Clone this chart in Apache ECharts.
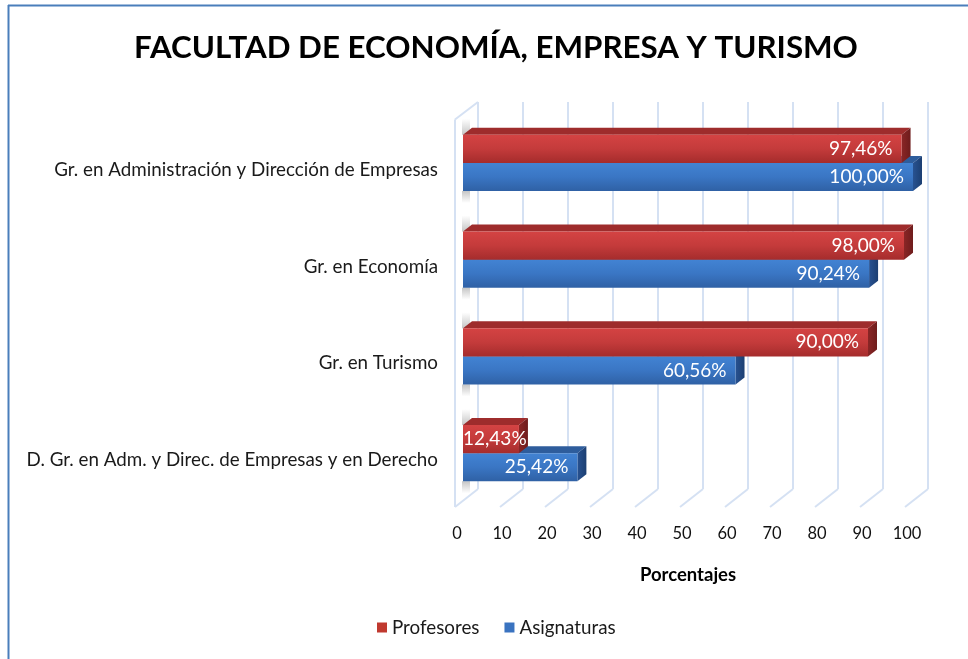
<!DOCTYPE html>
<html>
<head>
<meta charset="utf-8">
<script src="https://cdn.jsdelivr.net/npm/echarts@6/dist/echarts.min.js"></script>
<style>
html,body{margin:0;padding:0;background:#fff;}
#chart{width:968px;height:659px;}
</style>
</head>
<body>
<div id="chart"></div>
<script>
const categories = [
  'Gr. en Administración y Dirección de Empresas',
  'Gr. en Economía',
  'Gr. en Turismo',
  'D. Gr. en Adm. y Direc. de Empresas y en Derecho'
];
const profesores = [97.46, 98.00, 90.00, 12.43];
const asignaturas = [100.00, 90.24, 60.56, 25.42];
const xTicks = [0, 10, 20, 30, 40, 50, 60, 70, 80, 90, 100];
const seriesNames = ['Profesores', 'Asignaturas'];
const axisTitle = 'Porcentajes';
const chartTitle = 'FACULTAD DE ECONOMÍA, EMPRESA Y TURISMO';

const FONT = 'Lato, "Liberation Sans", sans-serif';
const LABEL_FONT = '19px ' + FONT;
const measureCtx = document.createElement('canvas').getContext('2d');
function textWidth(t) { measureCtx.font = LABEL_FONT; return measureCtx.measureText(t).width; }
function fmt(v) { return v.toFixed(2).replace('.', ',') + '%'; }

const DX = 9, DY = -7;
const palette = {
  red: { front: ['#D44343', '#C43B3B', '#A52C2C'], top: '#9E2C2C', side: ['#8A2626', '#6E1C1C'], legend: '#C0392F' },
  blue: { front: ['#4283D3', '#3A76C4', '#2F61A5'], top: '#2E5D9C', side: ['#285291', '#1C3F72'], legend: '#3A73C0' }
};

function barRenderer(upper, pal) {
  return function (params, api) {
    const v = api.value(0), c = api.value(1);
    const s = api.coord([0, c]);
    const e = api.coord([v, c]);
    const band = api.size([0, 1])[1];
    const h = band * 0.29;
    const y0 = upper ? s[1] - h : s[1];
    const y1 = y0 + h;
    const x0 = s[0], x1 = e[0];
    const txt = fmt(v);
    const tw = textWidth(txt);
    let tx, align;
    if (x1 - x0 - 9 >= tw) { tx = x1 - 9; align = 'right'; } else { tx = x0; align = 'left'; }
    const shadow = upper
      ? { type: 'rect', shape: { x: x0 - 1, y: y0 - 16, width: 8, height: 16 },
          style: { fill: new echarts.graphic.LinearGradient(0, 0, 0, 1, [{ offset: 0, color: 'rgba(150,150,150,0)' }, { offset: 1, color: 'rgba(150,150,150,0.55)' }]) } }
      : { type: 'rect', shape: { x: x0 - 1, y: y1, width: 8, height: 12 },
          style: { fill: new echarts.graphic.LinearGradient(0, 0, 0, 1, [{ offset: 0, color: 'rgba(150,150,150,0.55)' }, { offset: 1, color: 'rgba(150,150,150,0)' }]) } };
    return {
      type: 'group',
      children: [
        shadow,
        { type: 'polygon', shape: { points: [[x0, y0], [x0 + DX, y0 + DY], [x1 + DX, y0 + DY], [x1, y0]] },
          style: { fill: pal.top } },
        { type: 'polygon', shape: { points: [[x1, y0], [x1 + DX, y0 + DY], [x1 + DX, y1 + DY], [x1, y1]] },
          style: { fill: new echarts.graphic.LinearGradient(0, 0, 1, 0, [{ offset: 0, color: pal.side[0] }, { offset: 1, color: pal.side[1] }]) } },
        { type: 'rect', shape: { x: x0, y: y0, width: x1 - x0, height: h },
          style: { fill: new echarts.graphic.LinearGradient(0, 0, 0, 1, [
            { offset: 0, color: pal.front[0] }, { offset: 0.5, color: pal.front[1] }, { offset: 1, color: pal.front[2] }]) } },
        { type: 'text', z2: 10, style: { text: txt, x: tx, y: (y0 + y1) / 2, fill: '#ffffff', font: LABEL_FONT,
          align: align, textAlign: align, verticalAlign: 'middle', textVerticalAlign: 'middle' } }
      ]
    };
  };
}

function floorRenderer(params, api) {
  const v = api.value(0);
  const x = api.coord([v, 0])[0];
  const cs = params.coordSys;
  const bottom = cs.y + cs.height;
  const lineStyle = { stroke: '#D5E1F3', lineWidth: 2, fill: null };
  const children = [
    { type: 'line', shape: { x1: x - 8, y1: bottom + 5.5, x2: x + 15, y2: bottom - 12.5 }, style: lineStyle }
  ];
  if (v === xTicks[0]) {
    children.push({ type: 'line', shape: { x1: x - 8, y1: bottom + 5.5, x2: x - 8, y2: cs.y + 5 }, style: lineStyle });
    children.push({ type: 'line', shape: { x1: x - 8, y1: cs.y + 5, x2: x + 15, y2: cs.y - 12.5 }, style: lineStyle });
  }
  return { type: 'group', children: children };
}

const chart = echarts.init(document.getElementById('chart'), null, { renderer: 'canvas' });
chart.setOption({
  backgroundColor: '#ffffff',
  animation: false,
  title: {
    text: chartTitle, left: 491, top: 27, textAlign: 'center',
    textStyle: { fontFamily: FONT, fontSize: 31.3, fontWeight: 'bold', color: '#000' }
  },
  graphic: [
    { type: 'line', shape: { x1: 8, y1: 5.5, x2: 968, y2: 5.5 }, style: { stroke: '#4A7EBB', lineWidth: 2 } },
    { type: 'line', shape: { x1: 8.5, y1: 5, x2: 8.5, y2: 659 }, style: { stroke: '#4A7EBB', lineWidth: 2 } }
  ],
  legend: {
    data: seriesNames, top: 613, left: 372, icon: 'rect', itemWidth: 10, itemHeight: 10, itemGap: 25,
    textStyle: { fontFamily: FONT, fontSize: 18.8, color: '#1a1a1a' }
  },
  grid: [
    { left: 463, width: 450, top: 114.5, height: 387 },
    { left: 478, width: 450, top: 102, height: 387 }
  ],
  xAxis: [
    { gridIndex: 0, type: 'value', min: 0, max: 100, interval: 10,
      name: axisTitle, nameLocation: 'middle', nameGap: 64,
      nameTextStyle: { fontFamily: FONT, fontSize: 18.5, fontWeight: 'bold', color: '#000' },
      axisLine: { show: false }, axisTick: { show: false }, splitLine: { show: false },
      axisLabel: { fontFamily: FONT, fontSize: 16.5, color: '#111', margin: 24, padding: [0, 12, 0, 0] } },
    { gridIndex: 1, type: 'value', min: 0, max: 100, interval: 10,
      axisLine: { show: false }, axisTick: { show: false }, axisLabel: { show: false },
      splitLine: { show: true, lineStyle: { color: '#D5E1F3', width: 2 } } }
  ],
  yAxis: [
    { gridIndex: 0, type: 'category', data: categories, inverse: true,
      axisLine: { show: false }, axisTick: { show: false },
      axisLabel: { fontFamily: FONT, fontSize: 18.8, color: '#1a1a1a', margin: 25,
        verticalAlign: 'top', lineHeight: 14 } },
    { gridIndex: 1, type: 'value', show: false }
  ],
  series: [
    { type: 'custom', name: 'floor', xAxisIndex: 0, yAxisIndex: 0, z: 1, clip: false, silent: true,
      data: xTicks.map(v => [v, 0]), encode: { x: 0, y: 1 }, renderItem: floorRenderer },
    { type: 'custom', name: seriesNames[1], xAxisIndex: 0, yAxisIndex: 0, z: 3, clip: false,
      itemStyle: { color: palette.blue.legend },
      data: asignaturas.map((v, i) => [v, i]), encode: { x: 0, y: 1 }, renderItem: barRenderer(false, palette.blue) },
    { type: 'custom', name: seriesNames[0], xAxisIndex: 0, yAxisIndex: 0, z: 4, clip: false,
      itemStyle: { color: palette.red.legend },
      data: profesores.map((v, i) => [v, i]), encode: { x: 0, y: 1 }, renderItem: barRenderer(true, palette.red) }
  ]
});
</script>
</body>
</html>
